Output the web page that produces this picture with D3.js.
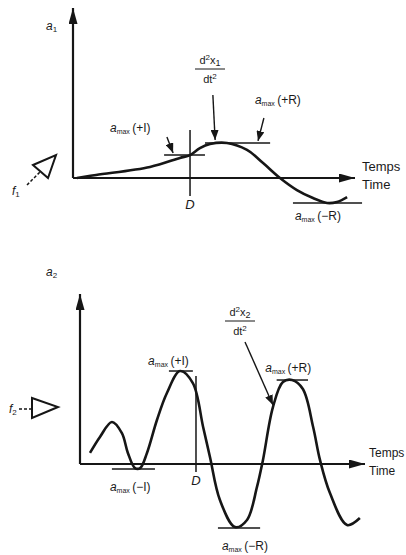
<!DOCTYPE html>
<html>
<head>
<meta charset="utf-8">
<script src="https://cdn.jsdelivr.net/npm/d3@7"></script>
<style>
  html, body { margin: 0; padding: 0; background: #fff; }
  svg { display: block; }
  text { font-family: "Liberation Sans", Arial, sans-serif; fill: #1a1a1a; }
</style>
</head>
<body>
<svg id="chart" width="406" height="555"></svg>
<script>
// ---------- data (time in % of axis, acceleration in arbitrary units) ----------
const topTime  = [1.4, 8.2, 27.3, 37.9, 41.5, 45.0, 48.6, 54.6, 61.7, 67.4, 73.4, 79.4, 85.1, 90.1, 93.6, 97.2];
const topAccel = [0, 0.18, 0.65, 1.18, 1.35, 1.76, 2.0, 2.06, 1.65, 0.88, 0, -0.71, -1.18, -1.47, -1.41, -1.12];

const botTime  = [3.5, 7.0, 11.2, 14.7, 16.8, 19.3, 21.1, 23.5, 27.0, 30.5, 35.1, 39.6, 43.2, 45.6, 49.1, 54.4, 58.6, 62.1, 64.2, 67.7, 71.2, 74.4, 78.2, 81.8, 84.2, 87.7, 93.7, 98.2];
const botAccel = [0.65, 1.59, 2.47, 1.82, 0.65, -0.24, -0.24, 0.65, 2.59, 4.18, 5.47, 4.76, 2.18, 0.41, -2.12, -3.71, -3.29, -1.35, 0.24, 3.35, 4.82, 4.94, 4.41, 2.18, 0.24, -1.71, -3.59, -3.18];

// reference (a_max) levels: [t0, t1, level]
const topLevels = [[32.3, 46.8, 1.35], [46.8, 69.9, 2.06], [78.0, 102.5, -1.47]];
const botLevels = [[11.2, 26.3, -0.29], [31.2, 39.6, 5.47], [69.0, 80.0, 4.94], [48.4, 63.2, -3.76]];

// D marker: [t, vTop, vBottom]
const topD = [41.5, 2.82, -1.06];
const botD = [40.7, 5.18, -0.47];

// pointer arrows: [t0, v0, t1, v1]
const topPointers = [[49.6, 4.88, 50.4, 2.24], [67.7, 3.53, 65.6, 2.18], [33.3, 2.41, 35.5, 1.47]];
const botPointers = [[57.9, 7.18, 67.7, 3.47]];

// a_max labels: [t, v, sign]
const topAmaxLabels = [[13.1, 2.7, "(+I)"], [64.5, 4.35, "(+R)"], [78.7, -2.47, "(−R)"]];
const botAmaxLabels = [[23.9, 5.82, "(+I)"], [10.5, -1.6, "(−I)"], [65.0, 5.4, "(+R)"], [49.8, -5.05, "(−R)"]];

// ---------- drawing ----------
const svg = d3.select("#chart");
const ink = "#161616";

const defs = svg.append("defs");
function marker(id, len, half) {
  defs.append("marker").attr("id", id)
    .attr("viewBox", `0 ${-half} ${len} ${2*half}`)
    .attr("refX", len).attr("refY", 0)
    .attr("markerUnits", "userSpaceOnUse")
    .attr("markerWidth", len).attr("markerHeight", 2*half)
    .attr("orient", "auto")
    .append("path").attr("d", `M0,${-half}L${len},0L0,${half}Z`).attr("fill", ink);
}
marker("axisHead", 16, 4.5);
marker("ptrHead", 10, 4);

function panel(cfg) {
  const x = d3.scaleLinear().domain([0, 100]).range(cfg.xr);
  const y = d3.scaleLinear().domain([0, 10]).range(cfg.yr);
  const g = svg.append("g");

  // axes (no ticks)
  const yAx = g.append("g").attr("transform", `translate(${x(0)},0)`)
    .call(d3.axisLeft(y).ticks(0).tickSizeOuter(0));
  yAx.select(".domain").attr("stroke", ink).attr("stroke-width", 2.2)
    .attr("d", `M0,${y(0)}V${y(10)}`).attr("marker-end", "url(#axisHead)");
  const xAx = g.append("g").attr("transform", `translate(0,${y(0)})`)
    .call(d3.axisBottom(x).ticks(0).tickSizeOuter(0));
  xAx.select(".domain").attr("stroke", ink).attr("stroke-width", 2)
    .attr("d", `M${x(0)},0H${x(100)}`).attr("marker-end", "url(#axisHead)");

  // levels
  g.selectAll(".lvl").data(cfg.levels).join("line")
    .attr("x1", d => x(d[0])).attr("x2", d => x(d[1]))
    .attr("y1", d => y(d[2])).attr("y2", d => y(d[2]))
    .attr("stroke", ink).attr("stroke-width", 1.5);

  // D line
  g.append("line").attr("x1", x(cfg.D[0])).attr("x2", x(cfg.D[0]))
    .attr("y1", y(cfg.D[1])).attr("y2", y(cfg.D[2]))
    .attr("stroke", ink).attr("stroke-width", 1.5);
  g.append("text").attr("x", x(cfg.D[0])).attr("y", y(cfg.D[2]) + 13)
    .attr("text-anchor", "middle").attr("font-size", 13).attr("font-style", "italic").text("D");

  // curve
  const pts = cfg.t.map((t, i) => [t, cfg.v[i]]);
  g.append("path").datum(pts)
    .attr("d", d3.line().x(d => x(d[0])).y(d => y(d[1])).curve(d3.curveCatmullRom.alpha(0.5)))
    .attr("fill", "none").attr("stroke", ink).attr("stroke-width", 2.6);

  // pointers
  g.selectAll(".ptr").data(cfg.pointers).join("line")
    .attr("x1", d => x(d[0])).attr("y1", d => y(d[1]))
    .attr("x2", d => x(d[2])).attr("y2", d => y(d[3]))
    .attr("stroke", ink).attr("stroke-width", 1.4).attr("marker-end", "url(#ptrHead)");

  // a_max labels
  cfg.amax.forEach(d => {
    const t = g.append("text").attr("x", x(d[0])).attr("y", y(d[1])).attr("font-size", 12);
    t.append("tspan").attr("font-style", "italic").text("a");
    t.append("tspan").attr("font-size", 7).attr("dy", 2).text("max");
    t.append("tspan").attr("dy", -2).text("\u2009" + d[2]);
  });

  // axis labels
  const al = g.append("text").attr("x", cfg.aLab[0]).attr("y", cfg.aLab[1]).attr("font-size", 12);
  al.append("tspan").attr("font-style", "italic").text("a");
  al.append("tspan").attr("font-size", 8).attr("dy", 2).text(cfg.idx);

  g.append("text").attr("x", x(100) + cfg.tOff).attr("y", y(0) - 7).attr("font-size", cfg.tSize).text("Temps");
  g.append("text").attr("x", x(100) + cfg.tOff).attr("y", y(0) + 11).attr("font-size", cfg.tSize).text("Time");

  // derivative fraction
  const [fx, fy] = cfg.frac;
  const num = g.append("text").attr("x", fx).attr("y", fy).attr("font-size", 11).attr("text-anchor", "middle");
  num.append("tspan").text("d");
  num.append("tspan").attr("font-size", 8).attr("dy", -4).text("2");
  num.append("tspan").attr("dy", 4).text("x");
  num.append("tspan").attr("font-size", 9).attr("dy", 2).text(cfg.idx);
  g.append("line").attr("x1", fx - 15).attr("x2", fx + 15).attr("y1", fy + 5).attr("y2", fy + 5)
    .attr("stroke", ink).attr("stroke-width", 1);
  const den = g.append("text").attr("x", fx).attr("y", fy + 19).attr("font-size", 11).attr("text-anchor", "middle");
  den.append("tspan").text("dt");
  den.append("tspan").attr("font-size", 8).attr("dy", -4).text("2");

  return { x, y, g };
}

const topPanel = panel({
  xr: [73, 355], yr: [178, 8], t: topTime, v: topAccel,
  levels: topLevels, D: topD, pointers: topPointers, amax: topAmaxLabels,
  aLab: [46, 30], idx: "1", frac: [210, 64], tOff: 7, tSize: 13
});
const botPanel = panel({
  xr: [80, 365], yr: [464, 294], t: botTime, v: botAccel,
  levels: botLevels, D: botD, pointers: botPointers, amax: botAmaxLabels,
  aLab: [46, 276], idx: "2", frac: [240, 316], tOff: 4, tSize: 12
});

// force arrows (input symbols)
const f1 = svg.append("g");
f1.append("line").attr("x1", 27).attr("y1", 185).attr("x2", 40).attr("y2", 172)
  .attr("stroke", ink).attr("stroke-width", 1.5).attr("stroke-dasharray", "3,2");
f1.append("path").attr("d", "M33,165L56,155L48,178Z").attr("fill", "none").attr("stroke", ink).attr("stroke-width", 2);
const f1t = f1.append("text").attr("x", 12).attr("y", 195).attr("font-size", 12);
f1t.append("tspan").attr("font-style", "italic").text("f");
f1t.append("tspan").attr("font-size", 8).attr("dy", 2).text("1");

const f2 = svg.append("g");
f2.append("line").attr("x1", 19).attr("y1", 409).attr("x2", 32).attr("y2", 409)
  .attr("stroke", ink).attr("stroke-width", 1.5).attr("stroke-dasharray", "3,2");
f2.append("path").attr("d", "M32,398L58,407L32,418Z").attr("fill", "none").attr("stroke", ink).attr("stroke-width", 2);
const f2t = f2.append("text").attr("x", 9).attr("y", 413).attr("font-size", 12);
f2t.append("tspan").attr("font-style", "italic").text("f");
f2t.append("tspan").attr("font-size", 8).attr("dy", 2).text("2");
</script>
</body>
</html>
